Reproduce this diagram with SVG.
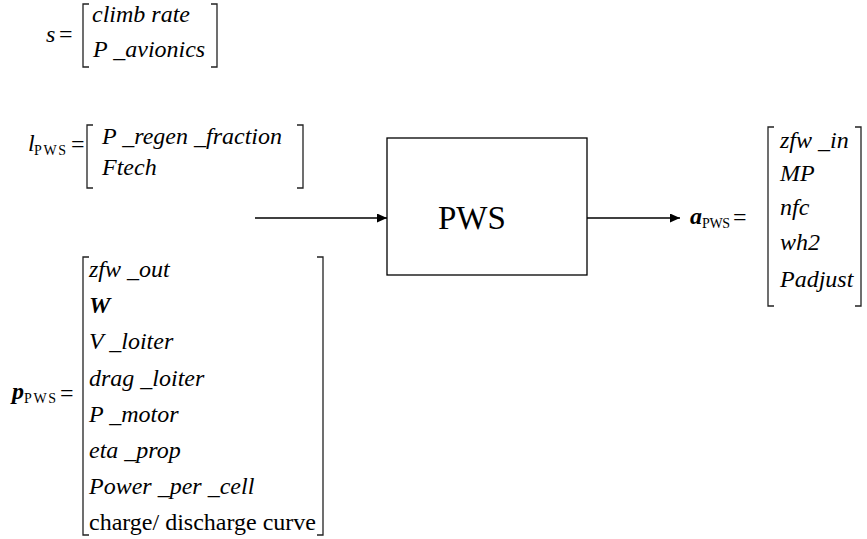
<svg xmlns="http://www.w3.org/2000/svg" width="867" height="539" viewBox="0 0 867 539" font-family="'Liberation Serif', 'DejaVu Serif', serif">
  <defs>
    <marker id="arrowhead" markerWidth="10" markerHeight="9" refX="10" refY="4.5" orient="auto" markerUnits="userSpaceOnUse">
      <path d="M0,0 L10,4.5 L0,9 Z" fill="#000"/>
    </marker>
  </defs>
  <style>
    text { font-family: 'Liberation Serif', 'DejaVu Serif', serif; fill: #000; }
    .it { font-style: italic; font-size: 24px; }
    .bi { font-style: italic; font-weight: bold; font-size: 24px; }
    .rm { font-size: 24px; }
    .sub { font-size: 14px; }
    .br { fill: none; stroke: #222; stroke-width: 1.3; }
    .box { fill: #fff; stroke: #000; stroke-width: 1.3; }
    .wire { fill: none; stroke: #000; stroke-width: 1.3; marker-end: url(#arrowhead); }
  </style>
  <rect width="867" height="539" fill="#fff"/>

  <!-- state vector s -->
  <g id="s-vector">
    <text class="it" x="46" y="42">s</text>
    <text class="rm" x="59" y="42">=</text>
    <path class="br" d="M89,4 H83 V67 H89"/>
    <path class="br" d="M211,4 H217 V67 H211"/>
    <text class="it" x="92" y="22">climb rate</text>
    <text class="it" x="93" y="57">P _avionics</text>
  </g>

  <!-- local variables l_PWS -->
  <g id="l-pws">
    <text class="it" x="28" y="151">l</text>
    <text class="sub" x="34" y="155" textLength="32" lengthAdjust="spacing">PWS</text>
    <text class="rm" x="71" y="152">=</text>
    <path class="br" d="M93,125 H87 V188 H93"/>
    <path class="br" d="M297,125 H303 V188 H297"/>
    <text class="it" x="102" y="144">P _regen _fraction</text>
    <text class="it" x="102" y="175">Ftech</text>
  </g>

  <!-- parameter vector p_PWS -->
  <g id="p-pws">
    <text class="bi" x="12" y="399">p</text>
    <text class="sub" x="24" y="403" textLength="32" lengthAdjust="spacing">PWS</text>
    <text class="rm" x="60" y="401">=</text>
    <path class="br" d="M89,257 H83 V535 H89"/>
    <path class="br" d="M317,257 H323 V535 H317"/>
    <text class="it" x="89" y="277">zfw _out</text>
    <text class="bi" x="89" y="313">W</text>
    <text class="it" x="89" y="349">V _loiter</text>
    <text class="it" x="89" y="386">drag _loiter</text>
    <text class="it" x="89" y="422">P _motor</text>
    <text class="it" x="89" y="458">eta _prop</text>
    <text class="it" x="89" y="494">Power _per _cell</text>
    <text class="rm" x="89" y="530">charge/ discharge curve</text>
  </g>

  <!-- PWS block -->
  <g id="pws">
    <rect class="box" x="387" y="138" width="200" height="137"/>
    <text x="438" y="229" font-size="33">PWS</text>
  </g>

  <!-- output vector a_PWS -->
  <g id="a-pws">
    <text class="bi" x="690" y="224">a</text>
    <text class="sub" x="702" y="228" textLength="28" lengthAdjust="spacing">PWS</text>
    <text class="rm" x="733" y="225">=</text>
    <path class="br" d="M774,127 H768 V306 H774"/>
    <path class="br" d="M855,127 H861 V306 H855"/>
    <text class="it" x="780" y="148">zfw _in</text>
    <text class="it" x="780" y="181">MP</text>
    <text class="it" x="780" y="215">nfc</text>
    <text class="it" x="780" y="250">wh2</text>
    <text class="it" x="780" y="287">Padjust</text>
  </g>

  <!-- connectors -->
  <g id="connectors">
    <line class="wire" x1="255" y1="218" x2="387" y2="218"/>
    <line class="wire" x1="587" y1="218" x2="680" y2="218"/>
  </g>
</svg>
